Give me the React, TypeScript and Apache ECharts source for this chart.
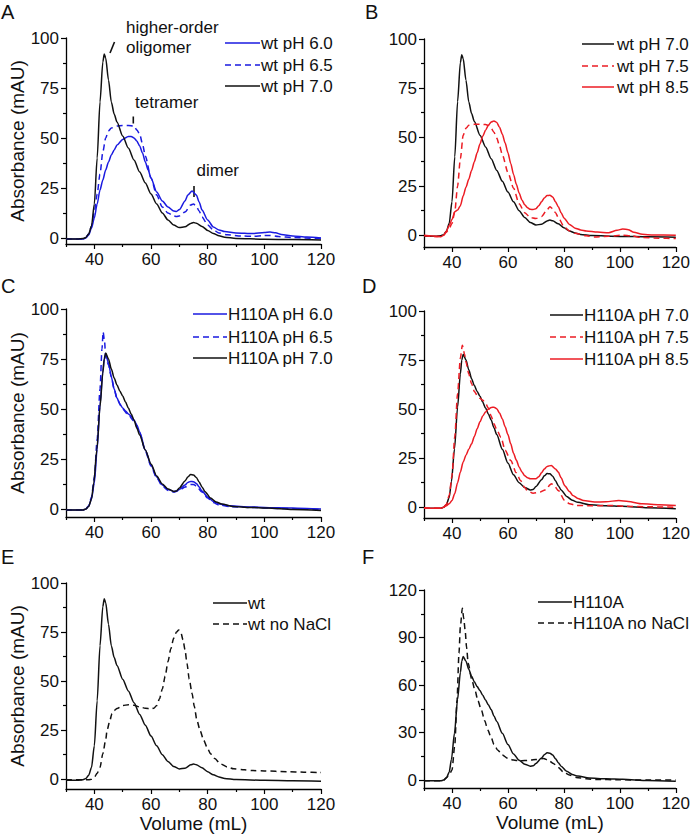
import React, { useEffect, useRef } from "react";
import * as echarts from "echarts";

type Pt = [number, number];

const FONT = "'Liberation Sans', Arial, Helvetica, sans-serif";

// ---- tick values ----
const X_TICKS = [40, 60, 80, 100, 120];
const X_MINOR = [30, 50, 70, 90, 110];
const Y_TICKS_100 = [0, 25, 50, 75, 100];
const Y_MINOR_100 = [12.5, 37.5, 62.5, 87.5];
const Y_TICKS_120 = [0, 30, 60, 90, 120];
const Y_MINOR_120 = [15, 45, 75, 105];

// ---- legend labels ----
const LEGEND_A = ["wt pH 6.0", "wt pH 6.5", "wt pH 7.0"];
const LEGEND_B = ["wt pH 7.0", "wt pH 7.5", "wt pH 8.5"];
const LEGEND_C = ["H110A pH 6.0", "H110A pH 6.5", "H110A pH 7.0"];
const LEGEND_D = ["H110A pH 7.0", "H110A pH 7.5", "H110A pH 8.5"];
const LEGEND_E = ["wt", "wt no NaCl"];
const LEGEND_F = ["H110A", "H110A no NaCl"];
const PANEL_LETTERS = ["A", "B", "C", "D", "E", "F"];
const ANNOTATIONS = ["higher-order", "oligomer", "tetramer", "dimer"];

// ---- data (volume mL, absorbance mAU) ----
const WT_PH70: Pt[] = [[30,-0.5],[34,-0.5],[36,-0.3],[37,0.3],[38,2],[39,6],[40,17],[41,40],[42,68],[43,88],[43.5,92],[44,90],[45,79],[46,68],[47,62],[48,58],[50,51],[52,45],[54,39],[56,33],[58,27.5],[60,22],[62,17],[64,12.5],[66,9],[68,6.5],[70,5.2],[72,5.6],[74,7.3],[75,7.7],[76,7.4],[78,5.8],[80,3.8],[82,2.2],[84,1.1],[86,0.4],[90,-0.2],[100,-0.6],[110,-0.8],[120,-1]];
const WT_PH60: Pt[] = [[30,-0.5],[36,-0.5],[37,0],[38,1.5],[39,5],[40,10],[41,17],[42,24],[43,29],[44,34],[45,38],[46,41.5],[47,44],[48,46.5],[50,49.3],[52,50.8],[53,50.8],[54,50],[55,48.5],[56,46],[57,42.5],[58,38],[59,34],[60,30],[62,23],[64,18.5],[66,15.5],[68,13.5],[69,13.3],[70,14.2],[72,18.5],[73,21.5],[74.5,23.5],[76,21.5],[77,18],[78,14],[80,9],[82,5.5],[84,4],[86,3.2],[90,2.5],[96,2.2],[100,2.8],[102,3],[104,2.6],[106,1.8],[110,1],[115,0.5],[120,0]];
const WT_PH65: Pt[] = [[30,-0.5],[36,-0.5],[37,0.3],[38,2],[39,6],[40,13],[41,22],[42,32],[43,43],[44,50],[45,53.5],[46,55],[48,56],[50,56.3],[52,56.3],[54,56],[55,54],[56,52],[57,47],[58,41],[60,30],[62,21.5],[64,15.5],[66,12.5],[68,11],[69,10.7],[70,11],[72,13],[74,16.5],[75,17],[76,15.8],[77,13.5],[78,10.5],[80,6.5],[82,4],[84,2.5],[87,1.6],[92,1],[96,0.8],[100,1.3],[102,1.3],[105,0.7],[110,0.2],[120,-0.3]];
const WT_PH75: Pt[] = [[30,-0.3],[35,-0.8],[37,0],[38,1.5],[39,3.5],[40,6],[41,12],[42,25],[43,39],[44,51],[45,54.5],[46,56],[48,56.5],[50,56.6],[52,56.4],[53,56],[54,54.5],[55,52.5],[56,49.5],[57,45.5],[58,41],[60,32],[62,24],[64,16],[66,11.5],[68,9],[70,8.5],[72,9.5],[74,13],[75,14.5],[76,13.5],[77,11.5],[78,9],[80,4.5],[82,2.2],[84,1],[88,-0.3],[91,-0.9],[96,-0.5],[101,0],[104,-0.3],[108,-1.2],[114,-1.5],[120,-1.7]];
const WT_PH85: Pt[] = [[30,0],[35,-0.5],[36,-0.8],[37,0],[38,2],[39,5],[40,8],[41,12],[42,12.8],[43,15],[44,20],[45,24.5],[46,28.5],[47,33],[48,37.5],[49,42],[50,46.5],[51,50.5],[52,53.5],[53,56],[54,57.7],[55,58.2],[56,57.5],[57,55],[58,51.5],[59,47],[60,42],[61,36.6],[62,31],[63,26],[64,21.5],[65,18],[66,15.5],[67,14],[68,13.2],[69,13.1],[70,13.5],[71,15],[72,17],[73,19],[74,20.2],[75,20.4],[76,19.5],[77,17],[78,14.5],[79,11.5],[80,8.8],[82,5.5],[84,3.6],[86,2.7],[88,2.2],[92,1.6],[96,1.3],[99,2.5],[101,3.2],[103,2.8],[105,1.5],[108,0.5],[112,0.1],[120,0]];
const H110A_PH70: Pt[] = [[30,-0.5],[36,-0.5],[37,0],[38,1.3],[39,5],[39.8,13],[40.9,29.7],[42,51],[43,68],[43.5,75],[44,78],[45,75],[46,70],[47,65.5],[48,62],[49,59],[50,56.5],[51,53.5],[52,50.5],[53,47.5],[54,44.5],[55,40.5],[56,37],[58,29.5],[60,22.5],[62,16.5],[64,12.5],[66,10],[68,8.8],[69,9],[70,10.5],[72,14],[73,16],[74,17.2],[75,17],[76,15.8],[77,13.5],[78,11],[79,8.8],[81,5.5],[83,3.5],[85,2.5],[89,1.3],[95,0.8],[101,0.5],[110,-0.3],[120,-0.8]];
const H110A_PH60: Pt[] = [[30,-0.5],[36,-0.5],[37,0],[38,1.5],[39,5],[40,13],[41,30],[42,52],[43,69],[43.5,75],[44,77.5],[45,73],[46,66],[47,60],[48,55.5],[49,52.5],[50,50.5],[51,49],[52,47.5],[53,46.5],[54,44.5],[55,42],[56,38.5],[58,29.5],[60,22],[62,16],[64,12],[66,9.8],[68,8.8],[69,8.9],[70,9.8],[72,12],[73,13.3],[74,13.8],[75,13.6],[76,12.8],[77,11],[78,9],[80,6],[82,3.8],[84,2.5],[88,1.6],[95,1],[105,0.6],[115,0.3],[120,0]];
const H110A_PH65: Pt[] = [[30,-0.5],[36,-0.5],[37,0],[38,1.5],[39,6],[40,16],[41,35],[42,60],[42.7,80],[43.1,88.5],[43.6,84],[44,76],[45,72],[46,66],[47,60],[48,55],[50,50],[52,47],[54,44],[56,38],[58,29],[60,21.5],[62,15.5],[64,11.5],[66,9.3],[68,8.5],[70,9.3],[72,11],[74,12.2],[75,12.3],[76,11.5],[78,8.5],[80,5.5],[82,3.2],[84,2],[88,1.2],[95,0.8],[105,0.3],[120,-0.3]];
const H110A_PH75: Pt[] = [[30,-0.3],[36,-0.5],[37,0],[38,1.5],[39,6],[40,16],[41,36],[42,58],[43,76],[43.7,82.5],[44.5,78],[45,74],[46,68],[47,63],[48,59],[49,57],[50,55.5],[51,54.5],[52,53],[53,50.5],[54,46.5],[55,42.5],[56,39.5],[57.5,35.7],[59,29],[61,23.8],[63,17.5],[64.5,13.6],[66,10],[67,8.3],[69,7.1],[71.5,7.7],[73,8.6],[74,9.4],[75,11.5],[75.6,11.9],[76.5,11],[78,8.5],[80.3,3.4],[82,1.8],[84.4,0.9],[90,0.7],[96,0.9],[102,0.5],[110,0.2],[120,0]];
const H110A_PH85: Pt[] = [[30,-0.5],[36,-0.5],[37,0],[38,0.8],[39,1.8],[40,3.4],[41,7],[42,12.5],[43,18],[44,23],[45,26.5],[46,29.5],[47,32.3],[48,36],[49,40],[50,43.5],[51,46.5],[52,48.5],[53,50],[54,50.8],[55,51],[56,50.2],[57,48],[58,45],[59,41],[60,37],[61,32.3],[62,27.5],[63,24],[64,20.5],[65,18],[66,16],[67,15],[68,14.5],[70,14.5],[71,15.5],[72,17.5],[73,19.5],[74,20.8],[75.5,21.3],[77,19.5],[78,17.9],[79,15],[80.3,11],[82,8],[83.2,6],[85,4.5],[87,3.4],[91,2.6],[95,2.8],[99.6,3.4],[103,2.9],[108,1.7],[114,1.2],[120,0.9]];
const WT_NO_NACL: Pt[] = [[30,-0.3],[36,-0.3],[38,-0.3],[39,0],[40,1],[41,3],[42,6],[43,13],[44,20],[44.5,25],[45.5,30],[46.2,33.4],[47,35],[48,36],[50,37.5],[52,38],[54,37.7],[56,36.8],[58,36.2],[60,35.8],[61,36.2],[62,37.5],[63,41],[64,46],[65,52.5],[66,60],[67,66.5],[68,71.8],[69,75],[69.8,76.1],[70.5,75],[71.3,71],[72,66],[72.7,59],[73.5,51],[74.5,43.7],[75.3,37],[76.2,30],[77.4,24.5],[78.6,19.8],[80,15.5],[81,13],[82.5,10.5],[84.5,7.8],[87,6.2],[89.2,5.3],[93,4.8],[96,4.4],[100,4.2],[108,3.8],[114,3.6],[120,3.4]];
const H110A_NO_NACL: Pt[] = [[30,-0.5],[36,-0.5],[37,0],[38,1.5],[39,3.5],[40,6.3],[41,22],[41.8,50.5],[42.5,80],[43,97],[43.7,108.4],[44.2,102],[44.7,94.7],[45.2,84],[45.8,73.7],[47,64],[48.2,56.8],[49.3,50],[50.5,44.2],[51.7,37.5],[52.8,31.6],[54,27],[55,22.5],[56.4,18.9],[58,15.8],[60,13.7],[62,12.6],[64,12.2],[66,12.3],[68,12.6],[70,13],[72.7,13.7],[74.5,12.5],[76.2,10.5],[78,8],[79.7,5.3],[82,3.2],[84.4,1.7],[88,0.8],[91.4,0.4],[100,0.2],[110,0],[120,0]];

const BLUE = "#1a1ae0";
const RED = "#ec1c24";
const BLACK = "#111111";

type SeriesDef = { name: string; data: Pt[]; color: string; dashed: boolean };
type Panel = {
  grid: { left: number; top: number; width: number; height: number };
  yMin: number; yMax: number; yTicks: number[]; yMinor: number[];
  yTitle: boolean; xTitle: boolean;
  series: SeriesDef[];
  legend: { x1: number; x2: number; tx: number; rows: number[] };
  letterPos: [number, number];
};

const PANELS: Panel[] = [
  {
    grid: { left: 66, top: 38, width: 255, height: 206 }, yMin: -3, yMax: 100,
    yTicks: Y_TICKS_100, yMinor: Y_MINOR_100, yTitle: true, xTitle: false,
    series: [
      { name: LEGEND_A[0], data: WT_PH60, color: BLUE, dashed: false },
      { name: LEGEND_A[1], data: WT_PH65, color: BLUE, dashed: true },
      { name: LEGEND_A[2], data: WT_PH70, color: BLACK, dashed: false },
    ],
    legend: { x1: 225, x2: 260, tx: 261, rows: [43, 65, 86] }, letterPos: [1, 2],
  },
  {
    grid: { left: 424, top: 39, width: 256, height: 208 }, yMin: -6, yMax: 100,
    yTicks: Y_TICKS_100, yMinor: Y_MINOR_100, yTitle: false, xTitle: false,
    series: [
      { name: LEGEND_B[0], data: WT_PH70, color: BLACK, dashed: false },
      { name: LEGEND_B[1], data: WT_PH75, color: RED, dashed: true },
      { name: LEGEND_B[2], data: WT_PH85, color: RED, dashed: false },
    ],
    legend: { x1: 582, x2: 614, tx: 617, rows: [44, 66, 87] }, letterPos: [365, 2],
  },
  {
    grid: { left: 66, top: 309, width: 255, height: 208 }, yMin: -4, yMax: 100,
    yTicks: Y_TICKS_100, yMinor: Y_MINOR_100, yTitle: true, xTitle: false,
    series: [
      { name: LEGEND_C[0], data: H110A_PH60, color: BLUE, dashed: false },
      { name: LEGEND_C[1], data: H110A_PH65, color: BLUE, dashed: true },
      { name: LEGEND_C[2], data: H110A_PH70, color: BLACK, dashed: false },
    ],
    legend: { x1: 193, x2: 227, tx: 228, rows: [314, 337, 358] }, letterPos: [1, 276],
  },
  {
    grid: { left: 424, top: 311, width: 256, height: 207 }, yMin: -5.5, yMax: 100,
    yTicks: Y_TICKS_100, yMinor: Y_MINOR_100, yTitle: false, xTitle: false,
    series: [
      { name: LEGEND_D[0], data: H110A_PH70, color: BLACK, dashed: false },
      { name: LEGEND_D[1], data: H110A_PH75, color: RED, dashed: true },
      { name: LEGEND_D[2], data: H110A_PH85, color: RED, dashed: false },
    ],
    legend: { x1: 550, x2: 583, tx: 584, rows: [315, 337, 359] }, letterPos: [362, 276],
  },
  {
    grid: { left: 66, top: 583, width: 255, height: 206 }, yMin: -5, yMax: 100,
    yTicks: Y_TICKS_100, yMinor: Y_MINOR_100, yTitle: true, xTitle: true,
    series: [
      { name: LEGEND_E[0], data: WT_PH70, color: BLACK, dashed: false },
      { name: LEGEND_E[1], data: WT_NO_NACL, color: BLACK, dashed: true },
    ],
    legend: { x1: 213, x2: 247, tx: 248, rows: [603, 624] }, letterPos: [1, 547],
  },
  {
    grid: { left: 424, top: 590, width: 256, height: 198 }, yMin: -5, yMax: 120,
    yTicks: Y_TICKS_120, yMinor: Y_MINOR_120, yTitle: false, xTitle: true,
    series: [
      { name: LEGEND_F[0], data: H110A_PH70, color: BLACK, dashed: false },
      { name: LEGEND_F[1], data: H110A_NO_NACL, color: BLACK, dashed: true },
    ],
    legend: { x1: 538, x2: 572, tx: 573, rows: [602, 623] }, letterPos: [362, 547],
  },
];

const DASH = [6, 4];

function buildOption() {
  const n = PANELS.length;
  const grid: any[] = [];
  const xAxis: any[] = [];
  const yAxis: any[] = [];
  const series: any[] = [];
  const graphic: any[] = [];

  PANELS.forEach((p, i) => {
    grid.push({ ...p.grid, containLabel: false });
    xAxis[i] = {
      type: "value", gridIndex: i, min: 30, max: 120, position: "bottom",
      axisLine: { show: true, onZero: false, lineStyle: { color: "#000", width: 1.3 } },
      axisTick: { show: true, inside: false, length: 5, customValues: X_TICKS, lineStyle: { color: "#000", width: 1.2 } },
      axisLabel: { show: true, customValues: X_TICKS, fontSize: 17, color: "#111", margin: 7, fontFamily: FONT },
      splitLine: { show: false },
      name: p.xTitle ? "Volume (mL)" : "",
      nameLocation: "middle", nameGap: 25,
      nameTextStyle: { fontSize: 19, color: "#111", fontFamily: FONT, verticalAlign: "top" },
    };
    xAxis[n + i] = {
      type: "value", gridIndex: i, min: 30, max: 120, position: "bottom",
      axisLine: { show: false, onZero: false },
      axisTick: { show: true, inside: false, length: 3, customValues: X_MINOR, lineStyle: { color: "#000", width: 1.2 } },
      axisLabel: { show: false },
      splitLine: { show: false },
    };
    yAxis[i] = {
      type: "value", gridIndex: i, min: p.yMin, max: p.yMax, position: "left",
      axisLine: { show: true, onZero: false, lineStyle: { color: "#000", width: 1.3 } },
      axisTick: { show: true, inside: false, length: 5, customValues: p.yTicks, lineStyle: { color: "#000", width: 1.2 } },
      axisLabel: { show: true, customValues: p.yTicks, fontSize: 17, color: "#111", margin: 7, fontFamily: FONT },
      splitLine: { show: false },
      name: p.yTitle ? "Absorbance (mAU)" : "",
      nameLocation: "middle", nameGap: 36, nameRotate: 90,
      nameTextStyle: { fontSize: 19, color: "#111", fontFamily: FONT },
    };
    yAxis[n + i] = {
      type: "value", gridIndex: i, min: p.yMin, max: p.yMax, position: "left",
      axisLine: { show: false, onZero: false },
      axisTick: { show: true, inside: false, length: 3, customValues: p.yMinor, lineStyle: { color: "#000", width: 1.2 } },
      axisLabel: { show: false },
      splitLine: { show: false },
    };

    p.series.forEach((s) => {
      series.push({
        type: "line", name: s.name, xAxisIndex: i, yAxisIndex: i,
        data: s.data, showSymbol: false, symbol: "none",
        smooth: 0.25, smoothMonotone: "x",
        lineStyle: { color: s.color, width: 1.5, type: s.dashed ? DASH : "solid" },
        emphasis: { disabled: true },
      });
    });

    // legend
    p.series.forEach((s, k) => {
      const y = p.legend.rows[k];
      graphic.push({
        type: "line", silent: true,
        shape: { x1: p.legend.x1, y1: y, x2: p.legend.x2, y2: y },
        style: { stroke: s.color, lineWidth: 1.5, lineDash: s.dashed ? DASH : null },
      });
      graphic.push({
        type: "text", silent: true, x: p.legend.tx, y,
        style: { text: s.name, fill: "#111", font: `17px ${FONT}`, textVerticalAlign: "middle", verticalAlign: "middle" },
      });
    });

    graphic.push({
      type: "text", silent: true, x: p.letterPos[0], y: p.letterPos[1],
      style: { text: PANEL_LETTERS[i], fill: "#111", font: `20px ${FONT}`, textVerticalAlign: "top", verticalAlign: "top" },
    });
  });

  // annotations in panel A
  const annoText = (t: string, x: number, y: number) => ({
    type: "text", silent: true, x, y,
    style: { text: t, fill: "#111", font: `17px ${FONT}`, textVerticalAlign: "top", verticalAlign: "top" },
  });
  const annoLine = (x1: number, y1: number, x2: number, y2: number) => ({
    type: "line", silent: true, shape: { x1, y1, x2, y2 },
    style: { stroke: "#111", lineWidth: 1.6 },
  });
  graphic.push(annoText(ANNOTATIONS[0], 126, 19));
  graphic.push(annoText(ANNOTATIONS[1], 126, 39));
  graphic.push(annoLine(110, 53, 114.5, 42));
  graphic.push(annoText(ANNOTATIONS[2], 135, 94));
  graphic.push(annoLine(133.3, 116.5, 133.3, 123.5));
  graphic.push(annoText(ANNOTATIONS[3], 196.5, 162));
  graphic.push(annoLine(194, 186, 194, 197));

  return {
    animation: false,
    backgroundColor: "#ffffff",
    textStyle: { fontFamily: FONT },
    grid, xAxis, yAxis, series, graphic,
  };
}

export default function App() {
  const ref = useRef<HTMLDivElement>(null);
  useEffect(() => {
    if (!ref.current) return;
    const chart = echarts.init(ref.current, undefined, { renderer: "svg" });
    chart.setOption(buildOption() as any);
    return () => chart.dispose();
  }, []);
  return (
    <div
      ref={ref}
      style={{ position: "absolute", left: 0, top: 0, width: 693, height: 838, background: "#fff" }}
    />
  );
}
